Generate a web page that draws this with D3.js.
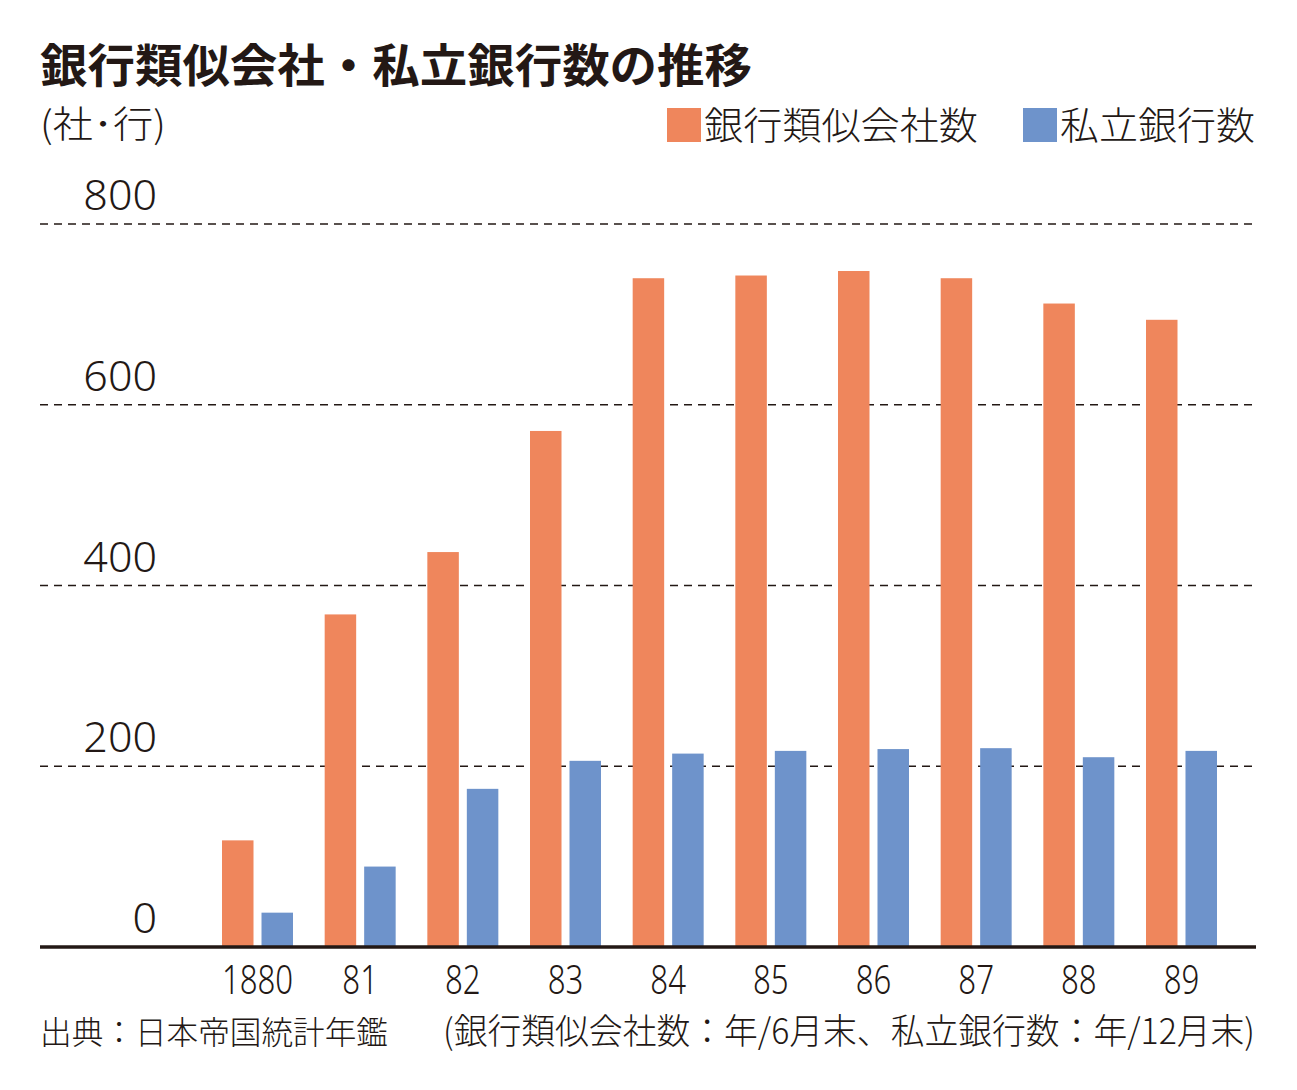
<!DOCTYPE html>
<html><head><meta charset="utf-8">
<script src="https://cdn.jsdelivr.net/npm/d3@7/dist/d3.min.js"></script>
<style>body{margin:0;background:#fff;} svg{display:block;}</style>
</head><body>
<svg id="c" width="1297" height="1090"></svg>
<script>
const years = ["1880","81","82","83","84","85","86","87","88","89"];
const companies = [118, 368, 437, 571, 740, 743, 748, 740, 712, 694];
const banks = [38, 89, 175, 206, 214, 217, 219, 220, 210, 217];
const seriesNames = ["銀行類似会社数","私立銀行数"];
const colors = ["#EF865C","#6E93CB"];
const yTicks = [0,200,400,600,800];

const svg = d3.select("#c");
const font = "'Noto Sans CJK JP', 'Noto Sans', sans-serif";
const ink = "#231815";

const x = d3.scaleBand().domain(years).range([206.17, 1232.83]).paddingInner(0.3085).paddingOuter(0.15425);
const x1 = d3.scaleBand().domain([0,1]).range([0, x.bandwidth()]).paddingInner(0.2025).paddingOuter(0);
const y = d3.scaleLinear().domain([0,800]).range([947,224]);

// title
svg.append("text").attr("x",40).attr("y",82).attr("font-family",font).attr("font-weight",700)
  .attr("font-size",46).attr("fill",ink).attr("textLength",712).attr("lengthAdjust","spacingAndGlyphs")
  .text("銀行類似会社・私立銀行数の推移");
svg.append("text").attr("x",40).attr("y",138).attr("font-family",font).attr("font-weight",300)
  .attr("font-size",37).attr("fill",ink).attr("textLength",126).attr("lengthAdjust","spacingAndGlyphs")
  .text("(社･行)");

// legend
const legX = [667, 1023];
const legLen = [274, 195];
seriesNames.forEach((n,i)=>{
  svg.append("rect").attr("x",legX[i]).attr("y",108).attr("width",34).attr("height",34).attr("fill",colors[i]);
  svg.append("text").attr("x",legX[i]+37).attr("y",139).attr("font-family",font).attr("font-weight",300)
    .attr("font-size",38).attr("fill",ink).attr("textLength",legLen[i]).attr("lengthAdjust","spacingAndGlyphs").text(n);
});

// grid
const grid = svg.append("g");
yTicks.filter(d=>d>0).forEach(v=>{
  grid.append("line").attr("x1",40).attr("x2",1255).attr("y1",y(v)).attr("y2",y(v))
    .attr("stroke","#231815").attr("stroke-width",1.4).attr("stroke-dasharray","8,6");
});
// y labels
yTicks.forEach(v=>{
  svg.append("text").attr("x",157).attr("y",y(v)-14).attr("text-anchor","end")
    .attr("font-family","'Noto Sans', sans-serif").attr("font-weight",300).attr("font-size",43).attr("fill",ink)
    .text(v);
});

// bars
const data = years.map((yr,i)=>({yr, vals:[companies[i], banks[i]]}));
const g = svg.append("g");
data.forEach(d=>{
  d.vals.forEach((v,j)=>{
    g.append("rect").attr("x",x(d.yr)+x1(j)).attr("width",x1.bandwidth())
      .attr("y",y(v)).attr("height",y(0)-y(v)).attr("fill",colors[j]);
  });
});

// axis baseline
svg.append("line").attr("x1",40).attr("x2",1256).attr("y1",y(0)).attr("y2",y(0))
  .attr("stroke",ink).attr("stroke-width",3.5);

// x labels
years.forEach(yr=>{
  const cx = x(yr)+x.bandwidth()/2;
  svg.append("text").attr("transform",`translate(${cx},994) scale(0.78,1)`).attr("text-anchor","middle")
    .attr("font-family","'Noto Sans', sans-serif").attr("font-weight",300).attr("font-size",40).attr("fill",ink)
    .text(yr);
});

// footer
svg.append("text").attr("x",40).attr("y",1044).attr("font-family",font).attr("font-weight",300)
  .attr("font-size",32).attr("fill",ink).attr("textLength",348).attr("lengthAdjust","spacingAndGlyphs")
  .text("出典：日本帝国統計年鑑");
svg.append("text").attr("x",443).attr("y",1044).attr("font-family",font).attr("font-weight",300)
  .attr("font-size",35).attr("fill",ink).attr("textLength",812).attr("lengthAdjust","spacingAndGlyphs")
  .text("(銀行類似会社数：年/6月末、私立銀行数：年/12月末)");
</script>
</body></html>
